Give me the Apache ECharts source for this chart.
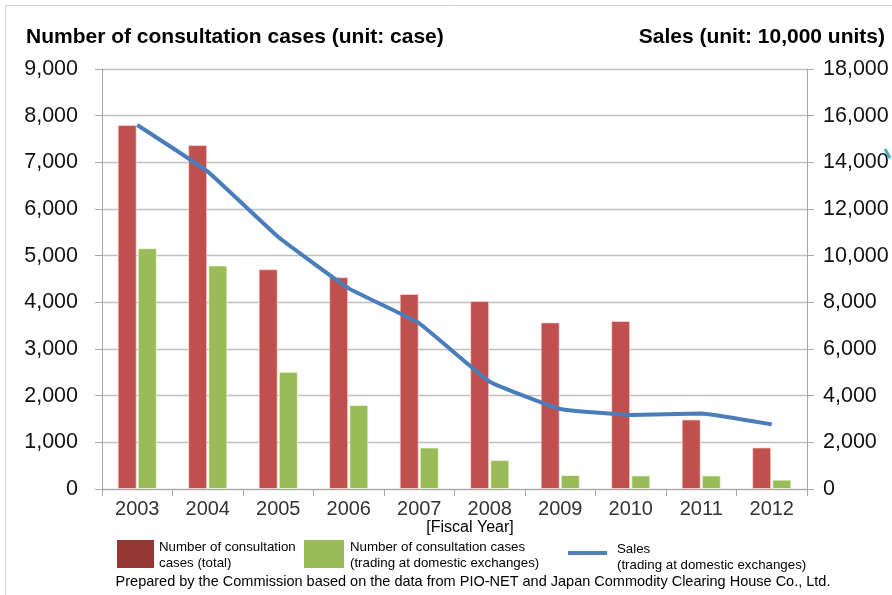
<!DOCTYPE html>
<html><head><meta charset="utf-8">
<script src="https://cdn.jsdelivr.net/npm/echarts@6/dist/echarts.min.js"></script>
<style>html,body{margin:0;padding:0;background:#fff}#c{width:892px;height:595px}</style>
</head><body><div id="c"></div>
<script>
const years = ['2003','2004','2005','2006','2007','2008','2009','2010','2011','2012'];
const casesTotal = [7800,7370,4710,4540,4180,4030,3570,3600,1490,890];
const casesDomestic = [5160,4790,2510,1800,890,620,300,290,290,200];
const sales = [15600,13600,10800,8600,7100,4600,3430,3170,3240,2770];
const leftTicks = {min:0,max:9000,interval:1000};
const rightTicks = {min:0,max:18000,interval:2000};

const font = 'Liberation Sans, Arial, sans-serif';
const chart = echarts.init(document.getElementById('c'), null, {renderer:'canvas'});
const fmt = v => v.toLocaleString('en-US');
chart.setOption({
  animation:false,
  backgroundColor:'#fff',
  textStyle:{fontFamily:font},
  title:[
    {text:'Number of consultation cases (unit: case)',left:21,top:22,textStyle:{fontFamily:font,fontSize:21,fontWeight:'bold',color:'#000'}},
    {text:'Sales (unit: 10,000 units)',right:2,top:22,textStyle:{fontFamily:font,fontSize:21,fontWeight:'bold',color:'#000'}}
  ],
  grid:{left:102,right:85,top:69,bottom:106,containLabel:false},
  xAxis:{type:'category',data:years,boundaryGap:true,
    axisLine:{lineStyle:{color:'#a6a6a6',width:1}},
    axisTick:{show:true,length:7,lineStyle:{color:'#a6a6a6'}},
    axisLabel:{fontSize:20,color:'#333',margin:10,fontFamily:font}},
  yAxis:[
    {type:'value',min:leftTicks.min,max:leftTicks.max,interval:leftTicks.interval,position:'left',
     axisLine:{show:true,lineStyle:{color:'#a6a6a6'}},axisTick:{show:true,length:7,lineStyle:{color:'#a6a6a6'}},
     splitLine:{show:true,lineStyle:{color:'#bfbfbf',width:1.3}},
     axisLabel:{fontSize:21.5,color:'#111',margin:24,formatter:fmt,fontFamily:font}},
    {type:'value',min:rightTicks.min,max:rightTicks.max,interval:rightTicks.interval,position:'right',
     axisLine:{show:true,lineStyle:{color:'#a6a6a6'}},axisTick:{show:true,length:7,lineStyle:{color:'#a6a6a6'}},
     splitLine:{show:false},
     axisLabel:{fontSize:21.5,color:'#111',margin:16,formatter:fmt,fontFamily:font}}
  ],
  series:[
    {type:'bar',name:'total',data:casesTotal,barWidth:19,barGap:'6%',
     itemStyle:{color:'#C0504D',borderColor:'rgba(255,220,220,0.7)',borderWidth:1}},
    {type:'bar',name:'domestic',data:casesDomestic,barWidth:19,
     itemStyle:{color:'#9BBB59',borderColor:'rgba(235,255,220,0.7)',borderWidth:1}},
    {type:'line',name:'sales',yAxisIndex:1,data:sales,showSymbol:false,smooth:0.1,
     lineStyle:{color:'#4A7EBB',width:4},z:5}
  ],
  graphic:[
    {type:'rect',shape:{x:5.5,y:5.5,width:900,height:600},style:{fill:'none',stroke:'#d0d0d0',lineWidth:1},silent:true,z:-1},
    {type:'line',shape:{x1:885,y1:149,x2:890,y2:158},style:{stroke:'#4BACC6',lineWidth:3}},
    {type:'text',style:{text:'[Fiscal Year]',x:470,y:528,align:'center',verticalAlign:'middle',fontSize:16,fill:'#000',fontFamily:font}},
    {type:'rect',shape:{x:117,y:540,width:37,height:28},style:{fill:'#953735'}},
    {type:'text',style:{text:'Number of consultation\ncases (total)',x:159,y:539,fontSize:13.3,lineHeight:16,fill:'#000',fontFamily:font}},
    {type:'rect',shape:{x:304,y:540,width:40,height:28},style:{fill:'#9BBB59'}},
    {type:'text',style:{text:'Number of consultation cases\n(trading at domestic exchanges)',x:350,y:539,fontSize:13.3,lineHeight:16,fill:'#000',fontFamily:font}},
    {type:'line',shape:{x1:568,y1:553,x2:607,y2:553},style:{stroke:'#4F81BD',lineWidth:4}},
    {type:'text',style:{text:'Sales\n(trading at domestic exchanges)',x:617,y:541,fontSize:13.3,lineHeight:16,fill:'#000',fontFamily:font}},
    {type:'text',style:{text:'Prepared by the Commission based on the data from PIO-NET and Japan Commodity Clearing House Co., Ltd.',x:473,y:582,align:'center',verticalAlign:'middle',fontSize:14.5,fill:'#000',fontFamily:font}}
  ]
});
</script></body></html>
